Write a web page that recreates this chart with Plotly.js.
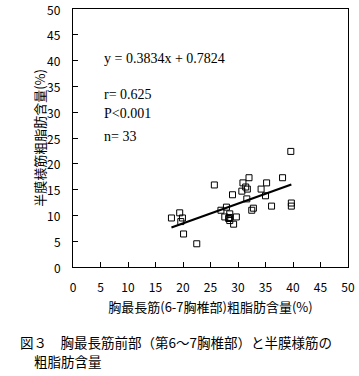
<!DOCTYPE html>
<html>
<head>
<meta charset="utf-8">
<script src="https://cdn.plot.ly/plotly-3.0.1.min.js"></script>
<style>html,body{margin:0;padding:0;background:#fff;}#chart{width:359px;height:376px;}</style>
</head>
<body>
<div id="chart"></div>
<script>
// Data
const xValues = [17.9, 19.4, 19.6, 19.9, 20.1, 22.5, 25.7, 26.9, 27.9, 27.6, 28.5,
  28.3, 28.5, 29.2, 29.7, 29.0, 30.7, 30.9, 31.4, 31.7, 32.0, 31.6, 32.5, 32.8,
  34.2, 35.2, 35.0, 36.1, 38.1, 39.6, 39.7, 39.7, 28.4];
const yValues = [9.5, 10.5, 8.8, 9.5, 6.4, 4.5, 15.9, 11.0, 11.6, 9.7, 10.3,
  9.4, 9.0, 8.3, 9.7, 14.0, 14.7, 16.3, 15.5, 15.1, 17.3, 13.2, 11.0, 11.4,
  15.1, 16.3, 13.8, 11.8, 17.3, 22.4, 12.4, 11.8, 9.6];
const slope = 0.3834;
const intercept = 0.7824;
const fitX = [17.9, 39.7];
const fitY = fitX.map(v => slope * v + intercept);
const tickVals = [0, 5, 10, 15, 20, 25, 30, 35, 40, 45, 50];
const tickLabels = ['0', '5', '10', '15', '20', '25', '30', '35', '40', '45', '50'];
const statLines = ['y = 0.3834x + 0.7824', 'r= 0.625', 'P<0.001', 'n= 33'];
const statY = [40.5, 33.4, 29.7, 25.2];
const xTitle = '胸最長筋(6-7胸椎部)粗脂肪含量(%)';
const yTitle = '半膜様筋粗脂肪含量(%)';
const caption1 = '図３　胸最長筋前部（第6～7胸椎部）と半膜様筋の';
const caption2 = '粗脂肪含量';

const jp = '"Noto Sans CJK JP", "Noto Sans", sans-serif';
const serif = '"Liberation Serif", "DejaVu Serif", serif';

const traces = [
  {x: xValues, y: yValues, type: 'scatter', mode: 'markers',
   marker: {symbol: 'square-open', size: 6, color: '#000', line: {width: 1, color: '#000'}},
   hoverinfo: 'x+y'},
  {x: fitX, y: fitY, type: 'scatter', mode: 'lines',
   line: {color: '#000', width: 2.2}, hoverinfo: 'skip'}
];

const L = 73, R = 11, T = 9, B = 109, W = 359, H = 376;
const pw = W - L - R, ph = H - T - B;

const annotations = statLines.map((t, i) => ({
  x: 5.2, y: statY[i], xref: 'x', yref: 'y', text: t, showarrow: false,
  xanchor: 'left', yanchor: 'middle', font: {family: serif, size: 14, color: '#000'}
}));
// y-axis tick labels placed at the axis tick values
tickVals.forEach((v, i) => annotations.push({
  x: (63 - L) / pw, y: v, xref: 'paper', yref: 'y', text: tickLabels[i], showarrow: false,
  xanchor: 'right', yanchor: 'middle', font: {family: jp, size: 12, color: '#000'}
}));
annotations.push({x: (18 - L) / pw, y: (H - B - 341.5) / ph, xref: 'paper', yref: 'paper', text: caption1,
  showarrow: false, xanchor: 'left', yanchor: 'middle', font: {family: jp, size: 13.5, color: '#000'}});
annotations.push({x: (32 - L) / pw, y: (H - B - 361) / ph, xref: 'paper', yref: 'paper', text: caption2,
  showarrow: false, xanchor: 'left', yanchor: 'middle', font: {family: jp, size: 13.5, color: '#000'}});

const axisCommon = {
  range: [0, 50], tickvals: tickVals,
  showgrid: false, zeroline: false, showline: true, linecolor: '#000', linewidth: 1,
  mirror: true, ticks: 'inside', ticklen: 5, tickcolor: '#000', tickwidth: 1,
  tickfont: {family: jp, size: 12, color: '#000'}
};

const layout = {
  width: W, height: H, margin: {l: L, r: R, t: T, b: B},
  paper_bgcolor: '#fff', plot_bgcolor: '#fff', showlegend: false,
  xaxis: Object.assign({}, axisCommon, {ticktext: tickLabels, ticklabelstandoff: 10,
    title: {text: xTitle, font: {family: jp, size: 13, color: '#000'}, standoff: 8}}),
  yaxis: Object.assign({}, axisCommon, {showticklabels: false,
    title: {text: yTitle, font: {family: jp, size: 13, color: '#000'}, standoff: 23}}),
  annotations: annotations
};

Plotly.newPlot('chart', traces, layout, {staticPlot: true, displayModeBar: false});
</script>
</body>
</html>
